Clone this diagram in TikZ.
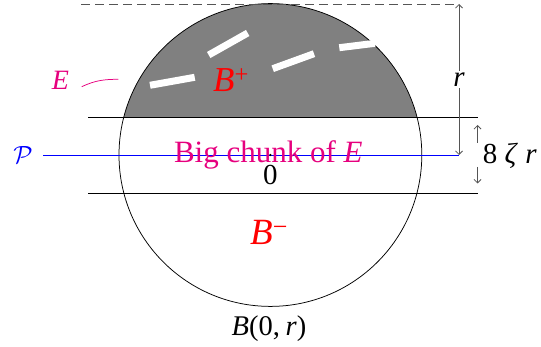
\documentclass[tikz,border=0pt]{standalone}
\usepackage{fontspec}
\setmainfont{Liberation Serif}
\usetikzlibrary{arrows.meta}
\definecolor{pinkE}{RGB}{230,0,126}
\definecolor{arrgray}{RGB}{85,85,85}
\tikzset{
  thinline/.style={line width=0.75pt},
  dimarrow/.style={arrgray, line width=0.75pt, -{Straight Barb[length=3.5pt,width=7pt]}},
  whitedash/.style={white, line width=7pt},
  lbl/.style={inner sep=0pt, anchor=base},
}
\newcommand{\fs}[1]{\fontsize{#1}{#1}\selectfont}
\begin{document}
\begin{tikzpicture}[x=1pt,y=-1pt]
\useasboundingbox (0,0) rectangle (541,347);
\coordinate (O) at (270.4,155);
% gray cap
\begin{scope}
  \clip (O) circle (151.4);
  \fill[gray] (100,0) rectangle (450,117);
\end{scope}
\draw[thinline] (O) circle (151.4);
% white dashes (boundary of E)
\draw[whitedash] (150,85.3) -- (194.7,77.3);
\draw[whitedash] (208.7,55) -- (247.7,33);
\draw[whitedash] (272.7,68.7) -- (314,53.7);
\draw[whitedash] (339.3,47.7) -- (375,43.3);
% horizontal lines
\coordinate (uL) at (88.3,117);
\coordinate (uR) at (478,117);
\coordinate (lL) at (88.3,193);
\coordinate (lR) at (478,193);
\draw[thinline] (uL) -- (uR);
\draw[thinline] (lL) -- (lR);
% plane P
\coordinate (pL) at (43.3,155);
\coordinate (pR) at (459,155);
\draw[blue, thinline] (pL) -- (pR);
% top dashed line
\coordinate (tL) at (81,4);
\coordinate (tR) at (459,4);
\draw[arrgray, thinline, dash pattern=on 9pt off 5pt] (tL) -- (tR);
% r dimension
\draw[dimarrow, {Straight Barb[length=3.5pt,width=7pt]}-{Straight Barb[length=3.5pt,width=7pt]}] (pR) -- node[fill=white, text=black, inner sep=1.5pt, font=\fs{29}\itshape] (rl) {r} (tR);
% 8 zeta r arrows
\coordinate (a1) at (477.5,143);
\coordinate (a1t) at (477.5,125);
\coordinate (a2) at (477.5,167);
\coordinate (a2t) at (477.5,183.5);
\draw[dimarrow] (a1) -- (a1t);
\draw[dimarrow] (a2) -- (a2t);
\node[lbl, anchor=base west, font=\fs{29}] (zr) at (482.7,164) {8\hspace{0.25em}\textit{ζ}\hspace{0.25em}\textit{r}};
% E label and pointer
\node[pinkE, font=\fs{28}\itshape] (El) at (60.5,80) {E};
\coordinate (e1) at (81.7,86.7);
\coordinate (e2) at (118.3,79.3);
\draw[pinkE, line width=0.75pt] (e1) to[out=25, in=180] (e2);
% labels
\node[lbl, anchor=base west, red, font=\fs{35}] (Bp) at (213,91.7) {\textit{B}\textsuperscript{+}};
\node[lbl, pinkE, font=\fs{31}] (chunk) at (268.3,162.7) {Big chunk of \textit{E}};
\fill (O) circle (1.2);
\node[lbl, font=\fs{29}] (zero) at (270.3,185) {0};
\node[lbl, anchor=base west, red, font=\fs{37}] (Bm) at (250,245) {\textit{B}\textsuperscript{−}};
\node[lbl, font=\fs{28.5}] (Bl) at (269,335.7) {\textit{B}(0,\hspace{0.2em}\textit{r})};
\node[blue, font=\fs{30}] (P) at (23,155) {$\mathcal{P}$};
\end{tikzpicture}
\end{document}
